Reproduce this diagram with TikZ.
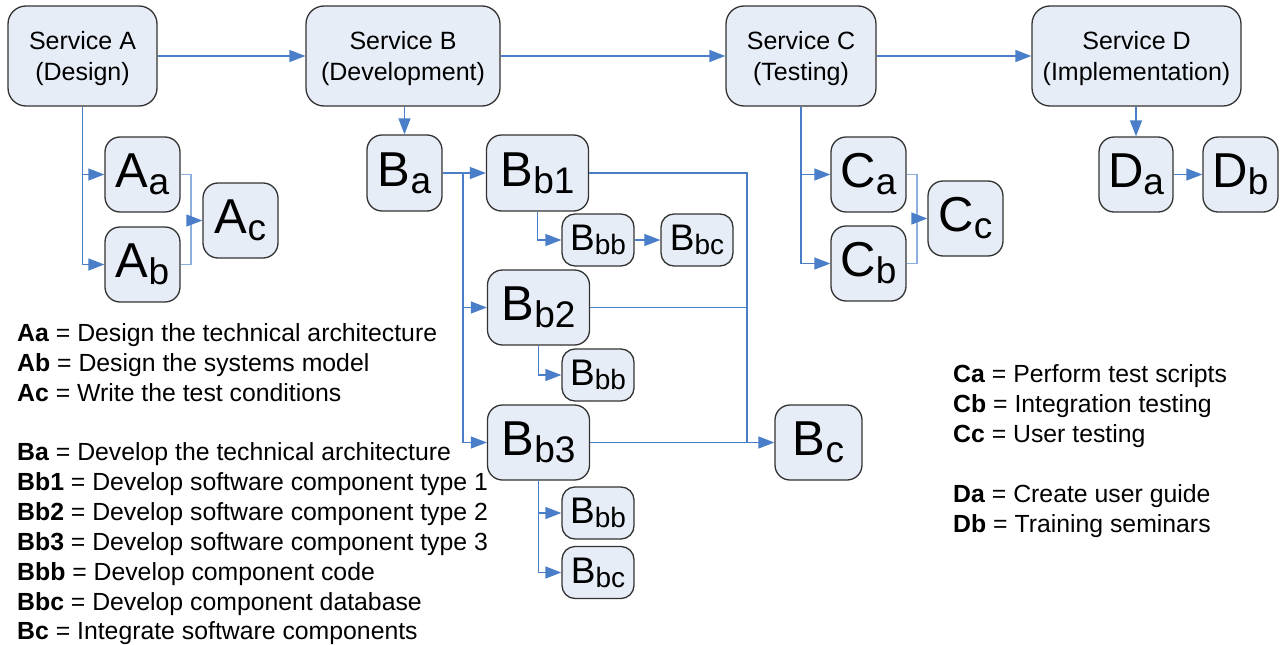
\documentclass[tikz,border=0pt]{standalone}
\usepackage{fontspec}
\setmainfont{Liberation Sans}
\usetikzlibrary{arrows.meta}
\definecolor{boxfill}{HTML}{E7EDF7}
\definecolor{boxline}{HTML}{333333}
\definecolor{flow}{HTML}{4A7EC8}
\definecolor{flowlight}{HTML}{8EAEDD}
\newcommand{\fsz}[2]{\fontsize{#1}{#2}\selectfont}
% service label: name over phase, phase line without depth so the block sits centred
\newcommand{\svctext}[2]{Service #1\\\raisebox{0pt}[\height][0pt]{(#2)}}
% task label: large letter with a lowered, smaller suffix
\newcommand{\bigtag}[2]{{\fsz{49}{49}#1}\raisebox{-7pt}{\fsz{37}{37}#2}}
\newcommand{\smalltag}[2]{{\fsz{37}{37}#1}\raisebox{-4pt}{\fsz{28}{28}#2}}
\newcommand{\legline}[2]{\textbf{#1} = #2}

\begin{document}
\begin{tikzpicture}[x=1pt,y=-1pt,
  svc/.style={draw=boxline, fill=boxfill, line width=1.3pt, rounded corners=18pt,
    inner sep=0pt, align=center, font=\fsz{25}{31}, minimum height=100pt},
  task/.style={draw=boxline, fill=boxfill, line width=1.3pt, rounded corners=15pt,
    inner sep=0pt, minimum height=75pt},
  subtask/.style={draw=boxline, fill=boxfill, line width=1.3pt, rounded corners=13pt,
    inner sep=0pt, minimum width=72pt, minimum height=52pt},
  flowline/.style={draw=flow, line width=1.3pt},
  thinflow/.style={draw=flow, line width=1.1pt},
  flowarrow/.style={flowline, -{Triangle[length=16pt,width=12pt]}},
  joinline/.style={draw=flowlight, line width=1.1pt},
  legend/.style={anchor=base west, inner sep=0pt, font=\fsz{24.8}{30}},
]
\useasboundingbox (0,0) rectangle (1280,645);

% services
\node[svc, minimum width=149pt] (SA) at (82.5,56) {\svctext{A}{Design}};
\node[svc, minimum width=194pt] (SB) at (403,56) {\svctext{B}{Development}};
\node[svc, minimum width=150pt] (SC) at (801,56) {\svctext{C}{Testing}};
\node[svc, minimum width=209pt] (SD) at (1136.5,56) {\svctext{D}{Implementation}};

% design tasks
\node[task, minimum width=75pt] (Aa) at (142.5,174.5) {\bigtag{A}{a}};
\node[task, minimum width=75pt] (Ab) at (142.5,264.5) {\bigtag{A}{b}};
\node[task, minimum width=75pt] (Ac) at (240.5,220.5) {\bigtag{A}{c}};

% development tasks
\node[task, minimum width=75pt, minimum height=76pt] (Ba) at (404.5,173) {\bigtag{B}{a}};
\node[task, minimum width=102pt, minimum height=76pt] (Bb1) at (537.5,173) {\bigtag{B}{b1}};
\node[subtask] (Bbb1) at (598,240) {\smalltag{B}{bb}};
\node[subtask] (Bbc1) at (697,240) {\smalltag{B}{bc}};
\node[task, minimum width=102pt] (Bb2) at (538.5,307.5) {\bigtag{B}{b2}};
\node[subtask] (Bbb2) at (598,375) {\smalltag{B}{bb}};
\node[task, minimum width=102pt] (Bb3) at (538.5,442.5) {\bigtag{B}{b3}};
\node[subtask] (Bbb3) at (598,513) {\smalltag{B}{bb}};
\node[subtask] (Bbc3) at (598,572.5) {\smalltag{B}{bc}};
\node[task, minimum width=87pt] (Bc) at (818.5,442.5) {\bigtag{B}{c}};

% testing tasks
\node[task, minimum width=75pt] (Ca) at (868.5,174.5) {\bigtag{C}{a}};
\node[task, minimum width=75pt] (Cb) at (868.5,263.5) {\bigtag{C}{b}};
\node[task, minimum width=75pt] (Cc) at (965.5,218.5) {\bigtag{C}{c}};

% implementation tasks
\node[task, minimum width=74pt] (Da) at (1136,174.5) {\bigtag{D}{a}};
\node[task, minimum width=75pt] (Db) at (1240.5,174.5) {\bigtag{D}{b}};

% junction points
\coordinate (mergeA) at (191,220.5);
\coordinate (splitB) at (463,173);
\coordinate (joinB) at (747,442.5);
\coordinate (mergeC) at (917,218.5);

% service chain
\draw[flowarrow] (SA.east) -- (SB.west);
\draw[flowarrow] (SB.east) -- (SC.west);
\draw[flowarrow] (SC.east) -- (SD.west);

% service A
\draw[flowarrow] (SA.south) |- (Aa.west);
\draw[flowarrow] (SA.south) |- (Ab.west);
\draw[joinline] (Aa.east) -| (mergeA);
\draw[joinline] (Ab.east) -| (mergeA);
\draw[flowarrow] (mergeA) -- (Ac.west);

% service B
\draw[flowarrow] (SB.south -| Ba.north) -- (Ba.north);
\draw[flowarrow] (Ba.east) -- (Bb1.west);
\draw[flowarrow] (splitB) |- (Bb2.west);
\draw[flowarrow] (splitB) |- (Bb3.west);
\draw[flowarrow] (Bb1.south) |- (Bbb1.west);
\draw[flowarrow] (Bbb1.east) -- (Bbc1.west);
\draw[flowarrow] (Bb2.south) |- (Bbb2.west);
\draw[flowarrow] (Bb3.south) |- (Bbb3.west);
\draw[flowarrow] (Bb3.south) |- (Bbc3.west);
\draw[thinflow] (Bb1.east) -| (joinB);
\draw[thinflow] (Bb2.east) -- (Bb2.east -| joinB);
\draw[flowarrow] (Bb3.east) -- (Bc.west);

% service C
\draw[flowarrow] (SC.south) |- (Ca.west);
\draw[flowarrow] (SC.south) |- (Cb.west);
\draw[joinline] (Ca.east) -| (mergeC);
\draw[joinline] (Cb.east) -| (mergeC);
\draw[flowarrow] (mergeC) -- (Cc.west);

% service D
\draw[flowarrow] (SD.south -| Da.north) -- (Da.north);
\draw[flowarrow] (Da.east) -- (Db.west);

% key, left
\node[legend] (legAa) at (17,341) {\legline{Aa}{Design the technical architecture}};
\node[legend] (legAb) at (17,371) {\legline{Ab}{Design the systems model}};
\node[legend] (legAc) at (17,401) {\legline{Ac}{Write the test conditions}};
\node[legend] (legBa) at (17,460) {\legline{Ba}{Develop the technical architecture}};
\node[legend] (legBb1) at (17,490) {\legline{Bb1}{Develop software component type 1}};
\node[legend] (legBb2) at (17,520) {\legline{Bb2}{Develop software component type 2}};
\node[legend] (legBb3) at (17,550) {\legline{Bb3}{Develop software component type 3}};
\node[legend] (legBbb) at (17,580) {\legline{Bbb}{Develop component code}};
\node[legend] (legBbc) at (17,610) {\legline{Bbc}{Develop component database}};
\node[legend] (legBc) at (17,639) {\legline{Bc}{Integrate software components}};

% key, right
\node[legend] (legCa) at (953,382) {\legline{Ca}{Perform test scripts}};
\node[legend] (legCb) at (953,412) {\legline{Cb}{Integration testing}};
\node[legend] (legCc) at (953,442) {\legline{Cc}{User testing}};
\node[legend] (legDa) at (953,502) {\legline{Da}{Create user guide}};
\node[legend] (legDb) at (953,532) {\legline{Db}{Training seminars}};
\end{tikzpicture}
\end{document}
